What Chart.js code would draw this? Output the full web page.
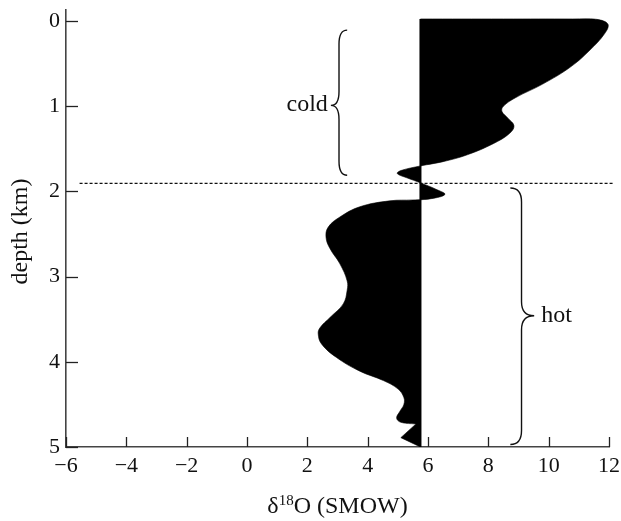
<!DOCTYPE html>
<html>
<head>
<meta charset="utf-8">
<script src="https://cdn.jsdelivr.net/npm/chart.js@4.4.0/dist/chart.umd.min.js"></script>
<style>
html, body { margin: 0; padding: 0; background: #fff; }
#wrap { width: 621px; height: 521px; position: relative; }
</style>
</head>
<body>
<div id="wrap"><canvas id="js--chart"></canvas></div>
<script>
// d18O profile: x = d18O (SMOW), depth in km
const profileX = [5.75, 8.5, 10.8, 11.6, 11.97, 11.85, 11.37, 10.72, 9.8, 8.9, 8.5, 8.45, 8.65, 8.85, 8.7, 8.16, 7.3, 6.5, 5.76,
    5.1, 4.98, 5.3, 5.76, 6.3, 6.56, 6.1, 5.5, 4.74, 3.74, 3.08, 2.69, 2.62, 2.75, 3.08, 3.32, 3.32, 3.19, 2.75, 2.42, 2.36,
    2.47, 2.97, 3.74, 4.52, 5.01, 5.2, 5.2, 5.07, 4.96, 5.1, 5.6]
const profileDepth = [-0.025, -0.025, -0.025, -0.02, 0.04, 0.15, 0.34, 0.54, 0.74, 0.9, 1.0, 1.06, 1.14, 1.23, 1.32, 1.44, 1.57, 1.65, 1.70,
    1.755, 1.79, 1.84, 1.90, 1.98, 2.035, 2.085, 2.1, 2.11, 2.18, 2.3, 2.42, 2.54, 2.67, 2.85, 3.05, 3.16, 3.32, 3.48, 3.6, 3.67,
    3.79, 3.95, 4.11, 4.22, 4.32, 4.42, 4.5, 4.58, 4.66, 4.71, 4.73]
// the saw-tooth at the bottom has sharp corners
const tailX = [5.6, 5.1, 5.75]
const tailDepth = [4.73, 4.89, 5.0]

const baseline = 5.75
const boundaryDepth = 1.906

const xTicks = [-6, -4, -2, 0, 2, 4, 6, 8, 10, 12]
const yTicks = [0, 1, 2, 3, 4, 5]

// braces: cold / hot
const braceNames = ["cold", "hot"]
const braceTop = [0.106, 1.96]
const braceBottom = [1.81, 4.97]
const braceTip = [0.99, 3.46]
const braceLineX = [3.05, 9.1]
const braceHookX = [3.32, 8.73]
const braceTipX = [2.78, 9.52]
const braceLabelX = [2.68, 9.75]
const braceLabelDepth = [1.06, 3.53]

const serif = '"Liberation Serif", "Times New Roman", serif'
const pts = (xs, ys) => xs.map((v, i) => ({x: v, y: ys[i]}))

const drawBrace = (ctx, x, top, bottom, tip, hookX, tipX) => {
    const r = 14
    ctx.beginPath()
    ctx.moveTo(hookX, top)
    ctx.quadraticCurveTo(x, top, x, top + r)
    ctx.lineTo(x, tip - r)
    ctx.quadraticCurveTo(x, tip, tipX, tip)
    ctx.quadraticCurveTo(x, tip, x, tip + r)
    ctx.lineTo(x, bottom - r)
    ctx.quadraticCurveTo(x, bottom, hookX, bottom)
    ctx.stroke()
}

const extras = {
    id: 'extras',
    afterDraw(chart) {
        const ctx = chart.ctx
        const xs = chart.scales.x
        const ys = chart.scales.y
        const area = chart.chartArea
        ctx.save()

        // tick marks point into the plot
        ctx.strokeStyle = '#222'
        ctx.lineWidth = 1.3
        yTicks.forEach(v => {
            const py = Math.round(ys.getPixelForValue(v)) + 0.5
            ctx.beginPath(); ctx.moveTo(area.left, py); ctx.lineTo(area.left + 12, py); ctx.stroke()
        })
        xTicks.forEach(v => {
            const px = Math.round(xs.getPixelForValue(v)) + 0.5
            ctx.beginPath(); ctx.moveTo(px, area.bottom); ctx.lineTo(px, area.bottom - 10); ctx.stroke()
        })

        // braces
        ctx.strokeStyle = '#111'
        ctx.lineWidth = 1.4
        braceNames.forEach((name, i) => {
            drawBrace(ctx,
                xs.getPixelForValue(braceLineX[i]),
                ys.getPixelForValue(braceTop[i]),
                ys.getPixelForValue(braceBottom[i]),
                ys.getPixelForValue(braceTip[i]),
                xs.getPixelForValue(braceHookX[i]),
                xs.getPixelForValue(braceTipX[i]))
            ctx.fillStyle = '#111'
            ctx.font = '24px ' + serif
            ctx.textBaseline = 'alphabetic'
            ctx.textAlign = braceTipX[i] < braceLineX[i] ? 'right' : 'left'
            ctx.fillText(name, xs.getPixelForValue(braceLabelX[i]), ys.getPixelForValue(braceLabelDepth[i]))
        })

        // x axis title with superscript
        ctx.fillStyle = '#111'
        ctx.textAlign = 'left'
        ctx.textBaseline = 'alphabetic'
        const big = '24px ' + serif
        const small = '15px ' + serif
        ctx.font = big
        const w1 = ctx.measureText('δ').width
        const w3 = ctx.measureText('O (SMOW)').width
        ctx.font = small
        const w2 = ctx.measureText('18').width
        let x0 = (area.left + area.right) / 2 - (w1 + w2 + w3) / 2
        const by = 513
        ctx.font = big
        ctx.fillText('δ', x0, by)
        ctx.font = small
        ctx.fillText('18', x0 + w1, by - 8)
        ctx.font = big
        ctx.fillText('O (SMOW)', x0 + w1 + w2, by)

        // y axis title
        ctx.translate(27, (area.top + area.bottom) / 2 + 3)
        ctx.rotate(-Math.PI / 2)
        ctx.textAlign = 'center'
        ctx.fillText('depth (km)', 0, 0)

        ctx.restore()
    }
}

const data = {
    datasets: [
        {
            data: pts(profileX, profileDepth),
            fill: {value: baseline},
            backgroundColor: '#000',
            borderColor: '#000',
            borderWidth: 0.6,
            tension: 0.4,
            pointRadius: 0
        },
        {
            data: pts(tailX, tailDepth),
            fill: {value: baseline},
            backgroundColor: '#000',
            borderColor: '#000',
            borderWidth: 0.6,
            tension: 0,
            pointRadius: 0
        },
        {
            data: [{x: baseline, y: profileDepth[0]}, {x: baseline, y: 5}],
            borderColor: '#000',
            borderWidth: 2,
            fill: false,
            pointRadius: 0
        },
        {
            data: [{x: -5.55, y: boundaryDepth}, {x: 12.15, y: boundaryDepth}],
            borderColor: '#111',
            borderWidth: 1.3,
            borderDash: [3, 2],
            fill: false,
            pointRadius: 0,
            clip: false
        }
    ]
}

const tickFont = {family: serif, size: 22}

const config = {
    type: 'line',
    data: data,
    plugins: [extras],
    options: {
        indexAxis: 'y',
        responsive: true,
        maintainAspectRatio: false,
        animation: false,
        layout: {padding: {top: 10, right: 12, left: 0, bottom: 0}},
        plugins: {legend: {display: false}, tooltip: {enabled: false}},
        scales: {
            x: {
                type: 'linear',
                position: 'bottom',
                min: -6,
                max: 12,
                grid: {display: false, drawTicks: false},
                border: {display: true, color: '#444', width: 1.6},
                ticks: {
                    font: tickFont,
                    color: '#111',
                    padding: 6,
                    maxRotation: 0,
                    callback: v => v < 0 ? '\u2212' + Math.abs(v) : String(v)
                },
                afterBuildTicks: s => { s.ticks = xTicks.map(v => ({value: v})) },
                afterFit: s => { s.height = 74; s.paddingLeft = 0; s.paddingRight = 0 }
            },
            y: {
                type: 'linear',
                position: 'left',
                reverse: true,
                min: -0.13,
                max: 5,
                grid: {display: false, drawTicks: false},
                border: {display: true, color: '#444', width: 1.6},
                ticks: {font: tickFont, color: '#111', padding: 6},
                afterBuildTicks: s => { s.ticks = yTicks.map(v => ({value: v})) },
                afterFit: s => { s.width = 66; s.paddingTop = 0; s.paddingBottom = 0 }
            }
        }
    }
}

new Chart(document.getElementById("js--chart"), config)
</script>
</body>
</html>
